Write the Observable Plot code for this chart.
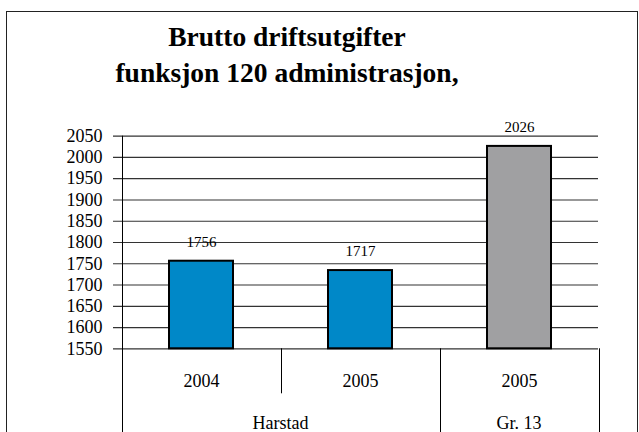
<!DOCTYPE html>
<html>
<head>
<meta charset="utf-8">
<script src="https://cdn.jsdelivr.net/npm/d3@7"></script>
<script src="https://cdn.jsdelivr.net/npm/@observablehq/plot@0.6"></script>
<style>
  html, body { margin: 0; padding: 0; background: #fff; }
  #wrap { position: relative; width: 639px; height: 432px; overflow: hidden; font-family: 'Liberation Serif', 'Times New Roman', serif; }
  #frame { position: absolute; left: 6px; top: 11px; width: 632px; height: 460px; border: 1.5px solid #222; box-sizing: border-box; pointer-events: none; }
  #title { height: 100px; width: 574px; box-sizing: border-box; padding-top: 19px; text-align: center; font-family: 'Liberation Serif', 'Times New Roman', serif; font-weight: bold; font-size: 27.5px; line-height: 36px; color: #000; }
  #chart svg { display: block; overflow: visible; }
</style>
</head>
<body>
<div id="wrap">
  <div id="title">Brutto driftsutgifter<br>funksjon 120 administrasjon,</div>
  <div id="chart"></div>
  <div id="frame"></div>
</div>
<script>
// Data
const categories = ["2004", "2005", "2005"];
const groupOf = ["Harstad", "Harstad", "Gr. 13"];
const barValues = [1756, 1734, 2026];          // bar heights as drawn
const valueLabels = ["1756", "1717", "2026"];  // printed labels
const barColors = ["#0088c8", "#0088c8", "#a0a0a2"];
const yTicks = [1550, 1600, 1650, 1700, 1750, 1800, 1850, 1900, 1950, 2000, 2050];
const groups = ["Harstad", "Gr. 13"];

const FONT = "'Liberation Serif', 'Times New Roman', serif";

const data = categories.map((c, i) => ({
  key: i, cat: c, group: groupOf[i], value: barValues[i], label: valueLabels[i], color: barColors[i]
}));

const chart = Plot.plot({
  width: 639,
  height: 332,
  marginLeft: 121,
  marginRight: 41,
  marginTop: 35.7,
  marginBottom: 83.7,
  style: { fontFamily: FONT, fontSize: "18px", color: "#000", background: "transparent", overflow: "visible" },
  x: { domain: data.map(d => d.key), paddingInner: 0.6, paddingOuter: 0.3, axis: null, label: null },
  y: { domain: [yTicks[0], yTicks[yTicks.length - 1]], axis: null, label: null },
  color: { type: "identity" },
  marks: [
    Plot.ruleY(yTicks, { stroke: "#333", strokeWidth: 1.2, insetLeft: -8 }),
    Plot.axisY(yTicks, { tickSize: 0, tickPadding: 19, fontSize: 18, fill: "#000", tickFormat: d => String(d), label: null, fontFamily: FONT }),
    Plot.axisX({ tickSize: 0, tickPadding: 25, fontSize: 18, fill: "#000", tickFormat: i => categories[i], label: null, fontFamily: FONT }),
    Plot.barY(data, { x: "key", y1: yTicks[0], y2: "value", fill: "color", stroke: "#000", strokeWidth: 2 }),
    Plot.text(data, { x: "key", y: "value", text: "label", dy: -19, fontSize: 15, fill: "#000", fontFamily: FONT })
  ]
});

document.getElementById("chart").appendChild(chart);

// Category table lines and group labels, positioned from Plot's scales
const xs = chart.scale("x"), ys = chart.scale("y");
const svg = d3.select(chart);
const half = (xs.step - xs.bandwidth) / 2;
const startOf = i => xs.apply(i) - half;
const endOf = i => xs.apply(i) + xs.bandwidth + half;
const yBot = ys.apply(yTicks[0]);
const yTop = ys.apply(yTicks[yTicks.length - 1]);
const H = 332;
const g = svg.append("g").attr("stroke", "#000").attr("stroke-width", 1);
const line = (x, y1, y2) => g.append("line").attr("x1", Math.round(x) + 0.5).attr("x2", Math.round(x) + 0.5).attr("y1", y1).attr("y2", y2);

// y axis line
line(startOf(0), yTop, H);
// group boundaries
groups.forEach(gr => {
  const idx = data.filter(d => d.group === gr).map(d => d.key);
  const s = startOf(idx[0]), e = endOf(idx[idx.length - 1]);
  line(e, yBot, H);
  idx.slice(1).forEach(k => line(startOf(k), yBot, yBot + 45));
  svg.append("text")
    .attr("x", (s + e) / 2).attr("y", yBot + 74)
    .attr("text-anchor", "middle").attr("dy", "0.35em")
    .attr("font-size", 18).attr("fill", "#000")
    .attr("font-family", FONT)
    .text(gr);
});
</script>
</body>
</html>
